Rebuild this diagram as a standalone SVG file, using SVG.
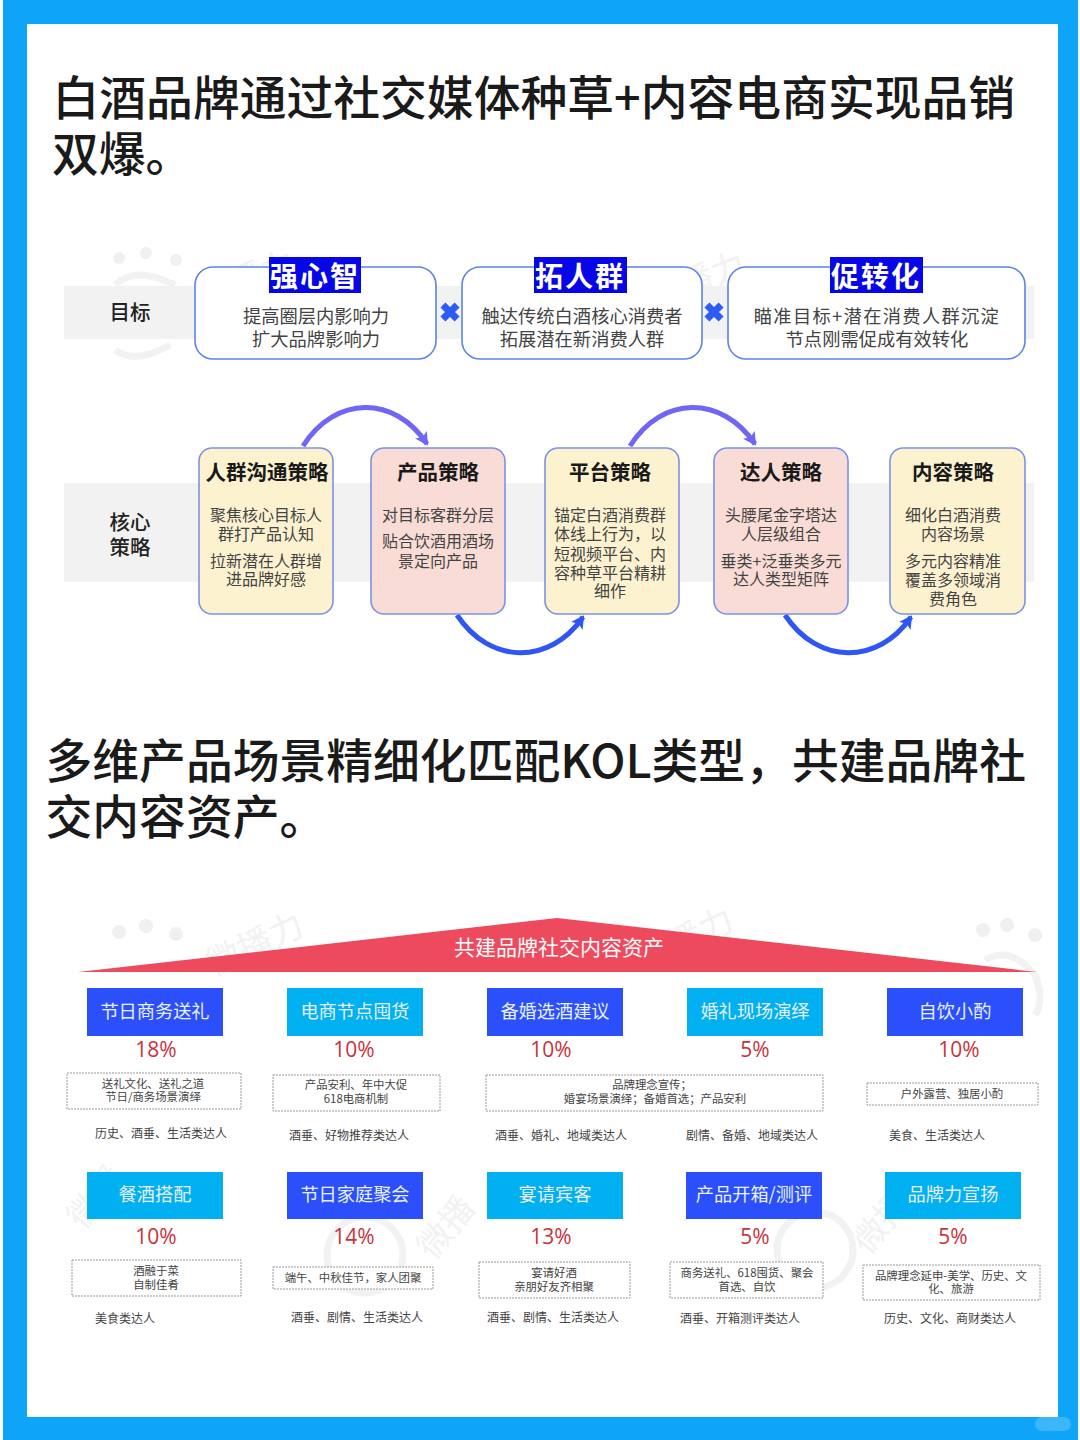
<svg xmlns="http://www.w3.org/2000/svg" width="1080" height="1440" viewBox="0 0 1080 1440">
<style>
text{font-family:"Noto Sans CJK SC","Noto Sans",sans-serif;text-anchor:middle;fill:#333}
.h{font-size:46.8px;font-weight:500;fill:#1a1a1a;text-anchor:start}
.band{fill:#f2f2f2}
.goal{fill:#fff;stroke:#5b83e8;stroke-width:1.6}
.lab{font-size:20.5px;fill:#222;font-weight:500}
.tag{fill:#0606e6}
.tagt{font-size:28px;font-weight:700;fill:#fff;letter-spacing:2px}
.gt{font-size:18.3px;fill:#444}
.y{fill:#fdf2d0;stroke:#7a92e6;stroke-width:1.6}
.p{fill:#fadcd6;stroke:#7a92e6;stroke-width:1.6}
.st{font-size:20.5px;font-weight:700;fill:#1a1a1a}
.sb{font-size:16px;fill:#444}
.b{fill:#2b50fb}.c{fill:#00b0f0}
.bt{font-size:18.2px;fill:#e8f0ff}
.pc{font-size:21px;fill:#c9323c;font-family:"Open Sans","Noto Sans",sans-serif}
.d{fill:#fff;stroke:#999;stroke-width:1;stroke-dasharray:2 1}
.dt{font-size:11.4px;fill:#444}
.kt{font-size:12px;fill:#444}
.wm{fill:#f0f0f0}
.wms{fill:none;stroke:#f2f2f2;stroke-width:7}
.wt{font-size:34px;fill:#f2f2f2}
.arc{fill:none;stroke-width:5}
</style>
<defs>
<marker id="ap" markerUnits="userSpaceOnUse" markerWidth="16" markerHeight="16" refX="11" refY="7" orient="auto"><path d="M0 0L13 7L0 14L3 7Z" fill="#6f66f5"/></marker>
<marker id="ab" markerUnits="userSpaceOnUse" markerWidth="16" markerHeight="16" refX="11" refY="7" orient="auto"><path d="M0 0L13 7L0 14L3 7Z" fill="#2f55f5"/></marker>
</defs>
<rect width="1080" height="1440" fill="#fff"/>
<rect x="3" y="0" width="1075" height="1440" fill="#0ea5f8"/>
<rect x="27" y="24" width="1031" height="1393" fill="#fff"/>
<rect x="1035" y="1417" width="36" height="14" rx="7" fill="#3cb6fa"/>

<g id="watermark">
<circle cx="119" cy="258" r="6" class="wm"/><circle cx="146" cy="253" r="6" class="wm"/><circle cx="176" cy="260" r="6" class="wm"/>
<path d="M115 285Q135 265 175 285" class="wms"/><path d="M115 350Q135 365 170 345" class="wms"/>
<text x="250" y="290" class="wt" transform="rotate(-20 250 290)">微播力</text>
<text x="700" y="292" class="wt" transform="rotate(-20 700 292)">微播力</text>
<circle cx="119" cy="932" r="7" class="wm"/><circle cx="146" cy="926" r="7" class="wm"/><circle cx="176" cy="934" r="7" class="wm"/>
<text x="260" y="955" class="wt" transform="rotate(-25 260 955)">微播力</text>
<text x="690" y="950" class="wt" transform="rotate(-25 690 950)">微播力</text>
<circle cx="983" cy="930" r="7" class="wm"/><circle cx="1007" cy="925" r="7" class="wm"/><circle cx="1035" cy="935" r="7" class="wm"/>
<path d="M985 960Q1010 945 1035 975Q1045 1000 1035 1015" class="wms"/>
<text x="105" y="1205" class="wt" transform="rotate(-50 105 1205)">微播</text>
<text x="455" y="1235" class="wt" transform="rotate(-50 455 1235)">微播</text>
<text x="890" y="1230" class="wt" transform="rotate(-50 890 1230)">微播</text>
<circle cx="365" cy="1255" r="38" class="wms"/>
<circle cx="815" cy="1250" r="38" class="wms"/>
</g>

<g id="title-1"><text class="h"><tspan x="52.500" y="115">白酒品牌通过社交媒体种草+内容电商实现品销</tspan><tspan x="52" y="171">双爆。</tspan></text></g>
<g id="title-2"><text class="h"><tspan x="45.500" y="778">多维产品场景精细化匹配KOL类型，共建品牌社</tspan><tspan x="45.500" y="834">交内容资产。</tspan></text></g>

<g id="band-goal"><rect class="band" x="64" y="286" width="970" height="53"/><text class="lab" x="130" y="320">目标</text></g>
<g id="band-strategy"><rect class="band" x="64" y="483" width="970" height="99"/><text class="lab"><tspan x="130" y="530">核心</tspan><tspan x="130" y="555">策略</tspan></text></g>

<g id="goal-1"><rect class="goal" x="195" y="267" width="241" height="92" rx="18"/><rect class="tag" x="269" y="257" width="92" height="36"/><text class="tagt" x="315" y="287">强心智</text><text class="gt"><tspan x="316" y="323">提高圈层内影响力</tspan><tspan x="316" y="346">扩大品牌影响力</tspan></text></g>
<g id="goal-2"><rect class="goal" x="462" y="267" width="240" height="92" rx="18"/><rect class="tag" x="534" y="257" width="93" height="36"/><text class="tagt" x="580" y="287">拓人群</text><text class="gt"><tspan x="582" y="323">触达传统白酒核心消费者</tspan><tspan x="582" y="346">拓展潜在新消费人群</tspan></text></g>
<g id="goal-3"><rect class="goal" x="728" y="267" width="297" height="92" rx="18"/><rect class="tag" x="830" y="257" width="93" height="36"/><text class="tagt" x="876" y="287">促转化</text><text class="gt"><tspan x="877" y="323" letter-spacing="1.3">瞄准目标+潜在消费人群沉淀</tspan><tspan x="877" y="346">节点刚需促成有效转化</tspan></text></g>
<g id="cross-1"><path d="M450 302v20M440 312h20" stroke="#2d5cf5" stroke-width="7" transform="rotate(45 450 312)"/></g>
<g id="cross-2"><path d="M714 302v20M704 312h20" stroke="#2d5cf5" stroke-width="7" transform="rotate(45 714 312)"/></g>

<g id="connectors">
<path class="arc" stroke="#6f66f5" d="M303 446C335 395 395 395 427 444" marker-end="url(#ap)"/>
<path class="arc" stroke="#2f55f5" d="M457 615C490 665 550 665 583 617" marker-end="url(#ab)"/>
<path class="arc" stroke="#6f66f5" d="M630 446C662 395 722 395 755 444" marker-end="url(#ap)"/>
<path class="arc" stroke="#2f55f5" d="M785 615C818 665 878 665 911 617" marker-end="url(#ab)"/>
</g>

<g id="s1"><rect class="y" x="199" y="448" width="134" height="166" rx="13"/><text class="st" x="267" y="480">人群沟通策略</text><text class="sb"><tspan x="266" y="521">聚焦核心目标人</tspan><tspan x="266" y="540">群打产品认知</tspan><tspan x="266" y="567">拉新潜在人群增</tspan><tspan x="266" y="585">进品牌好感</tspan></text></g>
<g id="s2"><rect class="p" x="371" y="448" width="134" height="166" rx="13"/><text class="st" x="438" y="480">产品策略</text><text class="sb"><tspan x="438" y="521">对目标客群分层</tspan><tspan x="438" y="547">贴合饮酒用酒场</tspan><tspan x="438" y="567">景定向产品</tspan></text></g>
<g id="s3"><rect class="y" x="545" y="448" width="134" height="166" rx="13"/><text class="st" x="610" y="480">平台策略</text><text class="sb"><tspan x="610" y="521">锚定白酒消费群</tspan><tspan x="610" y="540">体线上行为，以</tspan><tspan x="610" y="560">短视频平台、内</tspan><tspan x="610" y="579">容种草平台精耕</tspan><tspan x="610" y="597">细作</tspan></text></g>
<g id="s4"><rect class="p" x="714" y="448" width="134" height="166" rx="13"/><text class="st" x="781" y="480">达人策略</text><text class="sb"><tspan x="781" y="521">头腰尾金字塔达</tspan><tspan x="781" y="540">人层级组合</tspan><tspan x="781" y="567">垂类+泛垂类多元</tspan><tspan x="781" y="585">达人类型矩阵</tspan></text></g>
<g id="s5"><rect class="y" x="890" y="448" width="135" height="166" rx="13"/><text class="st" x="953" y="480">内容策略</text><text class="sb"><tspan x="953" y="521">细化白酒消费</tspan><tspan x="953" y="540">内容场景</tspan><tspan x="953" y="567">多元内容精准</tspan><tspan x="953" y="586">覆盖多领域消</tspan><tspan x="953" y="605">费角色</tspan></text></g>

<g id="pyramid"><path d="M78 972L557 918L1037 972Z" fill="#ee4a5e"/><text x="559" y="955" font-size="21" style="fill:#fff">共建品牌社交内容资产</text></g>

<g id="c1"><rect class="b" x="87" y="988" width="136" height="48"/><text class="bt" x="155" y="1018">节日商务送礼</text><text class="pc" x="156" y="1057">18%</text><rect class="d" x="67" y="1073" width="174" height="36"/><text class="dt"><tspan x="153" y="1088">送礼文化、送礼之道</tspan><tspan x="153" y="1101">节日/商务场景演绎</tspan></text><text class="kt" x="161" y="1138">历史、酒垂、生活类达人</text></g>
<g id="c2"><rect class="c" x="287" y="988" width="136" height="48"/><text class="bt" x="355" y="1018">电商节点囤货</text><text class="pc" x="354" y="1057">10%</text><rect class="d" x="273" y="1075" width="167" height="36"/><text class="dt"><tspan x="356" y="1089">产品安利、年中大促</tspan><tspan x="356" y="1103">618电商机制</tspan></text><text class="kt" x="349" y="1140">酒垂、好物推荐类达人</text></g>
<g id="c3"><rect class="b" x="487" y="988" width="136" height="48"/><text class="bt" x="555" y="1018">备婚选酒建议</text><text class="pc" x="551" y="1057">10%</text><rect class="d" x="486" y="1075" width="337" height="36"/><text class="dt"><tspan x="652" y="1089">品牌理念宣传；</tspan><tspan x="655" y="1103">婚宴场景演绎；备婚首选；产品安利</tspan></text><text class="kt" x="561" y="1140">酒垂、婚礼、地域类达人</text></g>
<g id="c4"><rect class="c" x="687" y="988" width="136" height="48"/><text class="bt" x="755" y="1018">婚礼现场演绎</text><text class="pc" x="755" y="1057">5%</text><text class="kt" x="752" y="1140">剧情、备婚、地域类达人</text></g>
<g id="c5"><rect class="b" x="887" y="988" width="136" height="48"/><text class="bt" x="955" y="1018">自饮小酌</text><text class="pc" x="959" y="1057">10%</text><rect class="d" x="867" y="1083" width="171" height="22"/><text class="dt" x="952" y="1098">户外露营、独居小酌</text><text class="kt" x="937" y="1140">美食、生活类达人</text></g>
<g id="c6"><rect class="c" x="87" y="1172" width="136" height="47"/><text class="bt" x="155" y="1201">餐酒搭配</text><text class="pc" x="156" y="1244">10%</text><rect class="d" x="72" y="1260" width="169" height="36"/><text class="dt"><tspan x="156" y="1275">酒融于菜</tspan><tspan x="156" y="1289">自制佳肴</tspan></text><text class="kt" x="125" y="1323">美食类达人</text></g>
<g id="c7"><rect class="b" x="287" y="1172" width="136" height="47"/><text class="bt" x="355" y="1201">节日家庭聚会</text><text class="pc" x="354" y="1244">14%</text><rect class="d" x="273" y="1267" width="160" height="22"/><text class="dt" x="353" y="1282">端午、中秋佳节，家人团聚</text><text class="kt" x="357" y="1322">酒垂、剧情、生活类达人</text></g>
<g id="c8"><rect class="c" x="487" y="1172" width="136" height="47"/><text class="bt" x="555" y="1201">宴请宾客</text><text class="pc" x="551" y="1244">13%</text><rect class="d" x="479" y="1262" width="151" height="36"/><text class="dt"><tspan x="554" y="1277">宴请好酒</tspan><tspan x="554" y="1291">亲朋好友齐相聚</tspan></text><text class="kt" x="553" y="1322">酒垂、剧情、生活类达人</text></g>
<g id="c9"><rect class="b" x="686" y="1172" width="136" height="47"/><text class="bt" x="754" y="1201">产品开箱/测评</text><text class="pc" x="755" y="1244">5%</text><rect class="d" x="670" y="1262" width="153" height="36"/><text class="dt"><tspan x="747" y="1277">商务送礼、618囤货、聚会</tspan><tspan x="747" y="1291">首选、自饮</tspan></text><text class="kt" x="740" y="1323">酒垂、开箱测评类达人</text></g>
<g id="c10"><rect class="c" x="885" y="1172" width="136" height="47"/><text class="bt" x="953" y="1201">品牌力宣扬</text><text class="pc" x="953" y="1244">5%</text><rect class="d" x="863" y="1265" width="177" height="35"/><text class="dt"><tspan x="951" y="1280">品牌理念延申-美学、历史、文</tspan><tspan x="951" y="1293">化、旅游</tspan></text><text class="kt" x="950" y="1323">历史、文化、商财类达人</text></g>
</svg>
